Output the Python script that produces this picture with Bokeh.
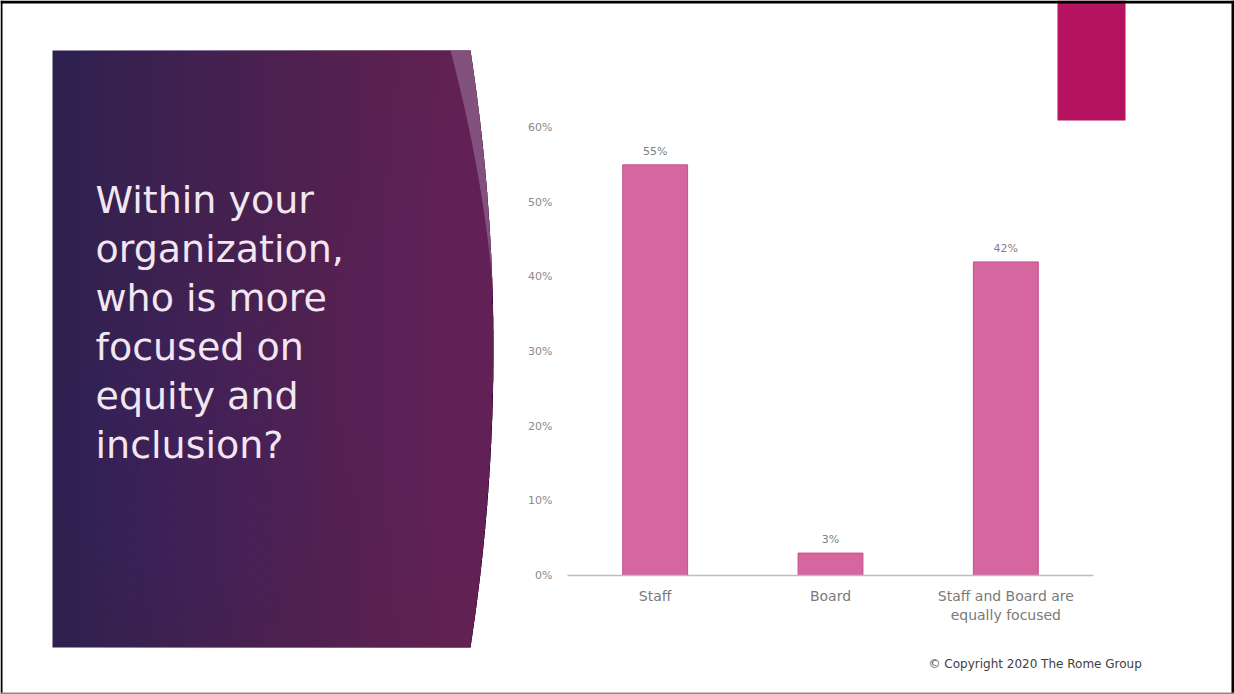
import numpy as np
from bokeh.plotting import figure
from bokeh.models import Range1d, LinearAxis, FixedTicker
from bokeh.embed import file_html
from bokeh.resources import INLINE
from bokeh.core.properties import value

# ---------------- data ----------------
categories = ["Staff", "Board", "Staff and Board are equally focused"]
category_label_lines = [["Staff"], ["Board"], ["Staff and Board are", "equally focused"]]
shares = [55, 3, 42]
share_labels = ["55%", "3%", "42%"]
y_ticks = [0, 10, 20, 30, 40, 50, 60]
y_tick_labels = ["0%", "10%", "20%", "30%", "40%", "50%", "60%"]
title_lines = ["Within your", "organization,", "who is more", "focused on",
               "equity and", "inclusion?"]
copyright_text = "\u00a9 Copyright 2020 The Rome Group"

# ---------------- page geometry (pixels) ----------------
W, H = 1234, 694
FL, FR, FT, FB = 567, 1093, 127, 575          # chart plotting area
NC = len(categories)
BW = (FR - FL) / NC                            # px per category
PPU = (FB - FT) / max(y_ticks)                 # px per percent
FONT = value("DejaVu Sans")

p = figure(width=W, height=H, x_range=Range1d(0, W), y_range=Range1d(H, 0),
           x_axis_type=None, y_axis_type=None, min_border=0,
           output_backend="svg", toolbar_location=None)
p.extra_x_ranges = {"cat": Range1d(-FL / BW, NC + (W - FR) / BW)}
p.extra_y_ranges = {"pct": Range1d(-(H - FB) / PPU, FB / PPU)}
p.background_fill_color = "white"
p.border_fill_color = "white"
p.outline_line_color = None

# ---------------- slide decorations (page coords) ----------------
PX0, PY0, PY1 = 52, 50, 647
top_x, mid_x = 470, 493
chord = PY1 - PY0
sag = mid_x - top_x
Rr = chord ** 2 / (8 * sag) + sag / 2
cyc = (PY0 + PY1) / 2
cxc = mid_x - Rr

def edge_x(y):
    return cxc + np.sqrt(Rr ** 2 - (y - cyc) ** 2)

yy = np.linspace(PY0, PY1, 80)
ex = edge_x(yy)
p.patch([PX0] + list(ex) + [PX0], [PY0] + list(yy) + [PY1],
        fill_color="#2e2150", line_color=None)

# horizontal gradient towards magenta on the right
N = 48
xs_list, ys_list = [], []
for i in range(N):
    x0 = PX0 + 25 + i * (450 - PX0 - 25) / N
    xs_list.append([x0] + list(ex) + [x0])
    ys_list.append([PY0] + list(yy) + [PY1])
p.patches(xs_list, ys_list, fill_color="#8e2f72", fill_alpha=0.021, line_color=None)

# magenta glow right-middle
xs_list, ys_list = [], []
for k in range(14):
    ry = 300 - k * 19
    ys_e = np.linspace(max(PY0, 350 - ry), min(PY1, 350 + ry), 50)
    rx = 180 - k * 12
    xl = edge_x(ys_e) - rx * np.sqrt(np.clip(1 - ((ys_e - 350) / ry) ** 2, 0, 1))
    xs_list.append(list(edge_x(ys_e)) + list(xl[::-1]))
    ys_list.append(list(ys_e) + list(ys_e[::-1]))
p.patches(xs_list, ys_list, fill_color="#8e2c6c", fill_alpha=0.025, line_color=None)

# soft bluish glow lower-left
t = np.linspace(0, 2 * np.pi, 60)
xs_list, ys_list = [], []
for k in range(14):
    rx, ry = 140 - k * 9, 190 - k * 12
    xs_list.append(list(195 + rx * np.cos(t)))
    ys_list.append(list(460 + ry * np.sin(t)))
p.patches(xs_list, ys_list, fill_color="#4c3c84", fill_alpha=0.025, line_color=None)

# light sliver at the top of the curve
ys_s = np.linspace(PY0, 290, 50)
outer = edge_x(ys_s)
inner = outer - 20 * np.clip(1 - (ys_s - PY0) / (290 - PY0), 0, 1) ** 1.3
p.patch(list(outer) + list(inner[::-1]), list(ys_s) + list(ys_s[::-1]),
        fill_color="#b49cbb", fill_alpha=0.4, line_color=None)

# title
p.text(x=[95] * len(title_lines), y=[199 + i * 49 for i in range(len(title_lines))],
       text=title_lines, text_font=FONT, text_font_size=value("38px"),
       text_color="#f2e6f1", text_align="left", text_baseline="alphabetic")

# copyright
p.text(x=[928], y=[663], text=[copyright_text], text_font=FONT,
       text_font_size=value("12px"), text_color="#404040",
       text_align="left", text_baseline="alphabetic")

# magenta accent block
p.quad(left=[1057], right=[1125], top=[0], bottom=[120],
       fill_color="#b5135f", line_color=None)

# page border
p.quad(left=[0, 0, W - 3, 0], right=[W, 2, W, W], top=[0, 0, 0, H - 2],
       bottom=[3, H, H, H], fill_color=["black", "black", "black", "#8c8c8c"],
       line_color=None)

# ---------------- chart ----------------
bar_x = [i + 0.5 for i in range(NC)]
p.vbar(x=bar_x, top=shares, bottom=0, width=0.37, x_range_name="cat",
       y_range_name="pct", fill_color="#d6669f", line_color="#c4508b", line_width=1)
p.text(x=bar_x, y=shares, text=share_labels, x_range_name="cat", y_range_name="pct",
       y_offset=-7, text_align="center", text_baseline="bottom", text_font=FONT,
       text_font_size=value("11px"), text_color="#7f7f7f")

# x axis at 0 %
xa = LinearAxis(x_range_name="cat", y_range_name="pct", fixed_location=0,
                ticker=FixedTicker(ticks=bar_x), bounds=(0, NC),
                major_label_overrides={x: l[0] for x, l in zip(bar_x, category_label_lines)})
xa.axis_line_color = "#bdbdbd"
xa.axis_line_width = 1.5
xa.major_tick_line_color = None
xa.minor_tick_line_color = None
xa.major_tick_out = 0
xa.major_tick_in = 0
xa.major_label_standoff = 12
xa.major_label_text_font = "DejaVu Sans"
xa.major_label_text_font_size = "14px"
xa.major_label_text_color = "#7a7a7a"
p.add_layout(xa, "below")

# second lines of multi-line category labels
sx, st = [], []
for x, l in zip(bar_x, category_label_lines):
    for extra in l[1:]:
        sx.append(x)
        st.append(extra)
p.text(x=sx, y=[0] * len(sx), text=st, x_range_name="cat", y_range_name="pct",
       y_offset=31, text_align="center", text_baseline="top", text_font=FONT,
       text_font_size=value("14px"), text_color="#7a7a7a")

# y axis at left edge of chart
ya = LinearAxis(x_range_name="cat", y_range_name="pct", fixed_location=0,
                ticker=FixedTicker(ticks=y_ticks),
                major_label_overrides={t_: l for t_, l in zip(y_ticks, y_tick_labels)})
ya.axis_line_color = None
ya.major_tick_line_color = None
ya.minor_tick_line_color = None
ya.major_tick_out = 0
ya.major_tick_in = 0
ya.major_label_standoff = 15
ya.major_label_text_font = "DejaVu Sans"
ya.major_label_text_font_size = "11px"
ya.major_label_text_color = "#8a8a8a"
p.add_layout(ya, "left")

open("out.html", "w").write(file_html(p, INLINE))
